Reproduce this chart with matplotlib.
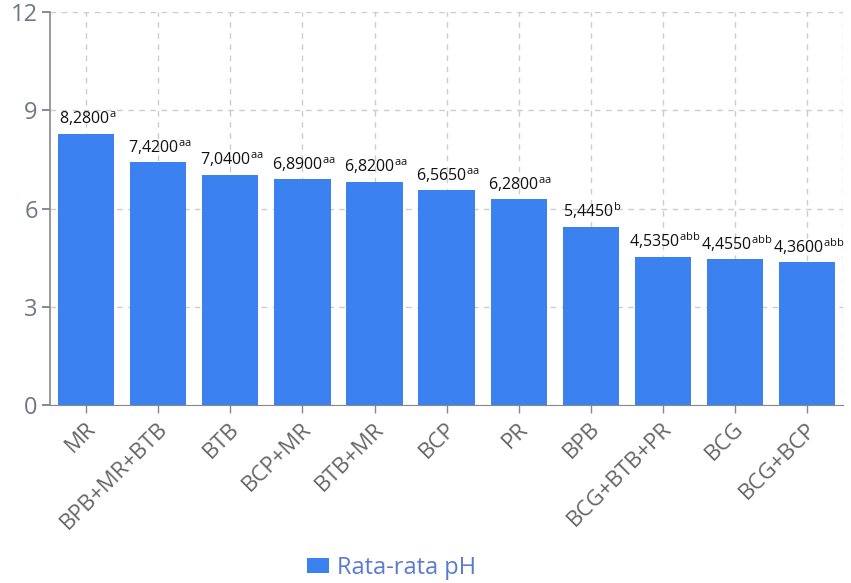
import matplotlib.pyplot as plt
import matplotlib.transforms as mtransforms
import numpy as np

plt.rcParams['font.family'] = ['Open Sans', 'DejaVu Sans']
plt.rcParams['mathtext.fontset'] = 'custom'
plt.rcParams['mathtext.rm'] = 'Open Sans'

categories = ['MR', 'BPB+MR+BTB', 'BTB', 'BCP+MR', 'BTB+MR', 'BCP', 'PR',
              'BPB', 'BCG+BTB+PR', 'BCG', 'BCG+BCP']
values = [8.28, 7.42, 7.04, 6.89, 6.82, 6.565, 6.28, 5.445, 4.535, 4.455, 4.36]
value_text = ['8,2800', '7,4200', '7,0400', '6,8900', '6,8200', '6,5650',
              '6,2800', '5,4450', '4,5350', '4,4550', '4,3600']
letters = ['a', 'aa', 'aa', 'aa', 'aa', 'aa', 'aa', 'b', 'abb', 'abb', 'abb']

blue = '#3b82f0'

fig = plt.figure(figsize=(8.51, 5.83), dpi=100)
ax = fig.add_axes([0.059, 0.3053, 0.9316, 0.6737])

x = np.arange(len(categories))
ax.bar(x, values, width=0.78, color=blue, zorder=2, label='Rata-rata pH')

for xi, v, t, s in zip(x, values, value_text, letters):
    ax.annotate(t + r'$^{\mathrm{' + s + '}}$', (xi, v), xytext=(1, 4),
                textcoords='offset points', ha='center', va='bottom',
                fontsize=11.5, color='#111111', zorder=3)

ax.set_xlim(-0.5, len(categories) - 0.5)
ax.set_ylim(0, 12)
ax.set_yticks([0, 3, 6, 9, 12])
ax.set_xticks(x)
ax.set_xticklabels(categories, rotation=45, ha='right', va='center',
                   rotation_mode='anchor', fontsize=16, color='#666666')
ax.tick_params(axis='y', labelsize=17, colors='#707784', length=6, width=1.2, pad=3)
ax.tick_params(axis='x', length=6, width=1, color='#888888', pad=9)

# shift the rotated labels a little to the right, like the original
shift = mtransforms.ScaledTranslation(0.06, 0, fig.dpi_scale_trans)
for lab in ax.get_xticklabels():
    lab.set_transform(lab.get_transform() + shift)

ax.grid(True, linestyle=(0, (4, 4)), color='#cccccc', linewidth=1, zorder=0)
ax.axvline(len(categories) - 0.5, linestyle=(0, (4, 4)), color='#cccccc', linewidth=1, zorder=0)
for sp in ['top', 'right']:
    ax.spines[sp].set_visible(False)
ax.spines['left'].set_color('#888888')
ax.spines['left'].set_linewidth(1.2)
ax.spines['bottom'].set_color('#888888')

leg = fig.legend(loc='center', bbox_to_anchor=(0.46, 0.026), frameon=False,
                 fontsize=17, handlelength=0.95, handleheight=0.55, handletextpad=0.35)
for txt in leg.get_texts():
    txt.set_color('#5a7bd0')

fig.savefig('out.png', dpi=100)
